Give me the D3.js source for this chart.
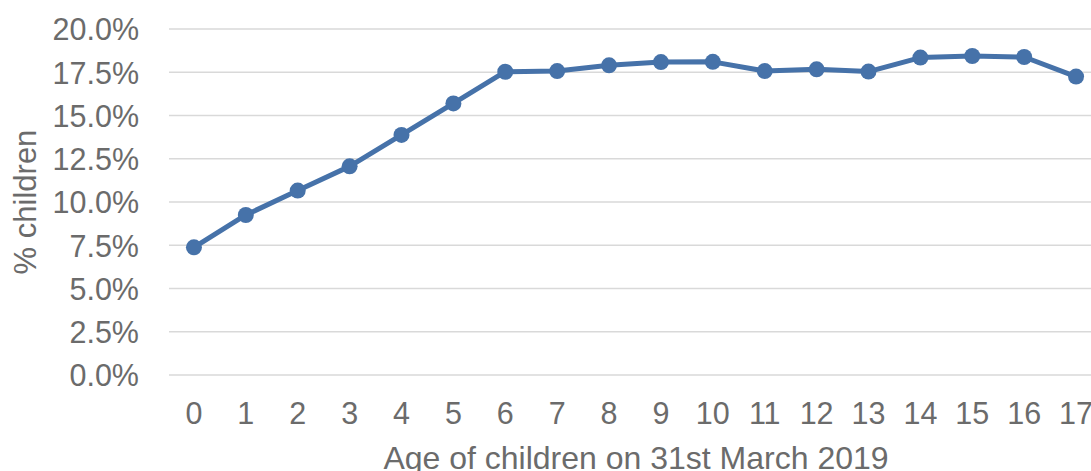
<!DOCTYPE html>
<html>
<head>
<meta charset="utf-8">
<script src="https://cdn.jsdelivr.net/npm/d3@7"></script>
<style>
  html, body { margin: 0; padding: 0; background: #fff; overflow: hidden; }
  svg { display: block; font-family: "Liberation Sans", Arial, sans-serif; }
</style>
</head>
<body>
<svg id="chart" width="1091" height="471"></svg>
<script>
const ages = ["0","1","2","3","4","5","6","7","8","9","10","11","12","13","14","15","16","17"];
const percentChildren = [7.38, 9.25, 10.66, 12.06, 13.88, 15.70, 17.53, 17.57, 17.90, 18.09, 18.10, 17.57, 17.67, 17.54, 18.35, 18.44, 18.38, 17.25];
const yTicks = [0, 2.5, 5, 7.5, 10, 12.5, 15, 17.5, 20];
const xTitle = "Age of children on 31st March 2019";
const yTitle = "% children";

const svg = d3.select("#chart");
const textColor = "#6b6b6b";
const lineColor = "#4672a9";

const x = d3.scaleBand().domain(ages).range([168, 1102]).padding(0);
const y = d3.scaleLinear().domain([0, 20]).range([375, 29]);
const cx = d => x(d) + x.bandwidth() / 2;

// gridlines
svg.append("g")
  .selectAll("line")
  .data(yTicks)
  .join("line")
  .attr("x1", 169).attr("x2", 1091)
  .attr("y1", d => y(d)).attr("y2", d => y(d))
  .attr("stroke", "#d9d9d9").attr("stroke-width", 1.5);

// y axis labels
const yAxis = d3.axisLeft(y).tickValues(yTicks).tickFormat(d => d.toFixed(1) + "%").tickSize(0).tickPadding(0);
const gy = svg.append("g").attr("transform", "translate(139,0)").call(yAxis);
gy.select(".domain").remove();
gy.selectAll("text").attr("fill", textColor).style("font-size", "30.5px")
  .style("font-family", "'Liberation Sans', Arial, sans-serif").attr("dy", "0.36em");

// x axis labels
const xAxis = d3.axisBottom(x).tickSize(0).tickPadding(0);
const gx = svg.append("g").attr("transform", "translate(0,424)").call(xAxis);
gx.select(".domain").remove();
gx.selectAll("text").attr("fill", textColor).style("font-size", "30.5px")
  .style("font-family", "'Liberation Sans', Arial, sans-serif").attr("y", 0).attr("dy", 0);

// line
const line = d3.line().x((d, i) => cx(ages[i])).y(d => y(d));
svg.append("path")
  .datum(percentChildren)
  .attr("d", line)
  .attr("fill", "none")
  .attr("stroke", lineColor)
  .attr("stroke-width", 5)
  .attr("stroke-linejoin", "round");

svg.append("g")
  .selectAll("circle")
  .data(percentChildren)
  .join("circle")
  .attr("cx", (d, i) => cx(ages[i]))
  .attr("cy", d => y(d))
  .attr("r", 8)
  .attr("fill", lineColor);

// titles
svg.append("text")
  .attr("x", 636).attr("y", 469)
  .attr("text-anchor", "middle")
  .attr("fill", textColor)
  .style("font-size", "32px")
  .text(xTitle);

svg.append("text")
  .attr("transform", "translate(36,202) rotate(-90)")
  .attr("text-anchor", "middle")
  .attr("fill", textColor)
  .style("font-size", "31px")
  .text(yTitle);
</script>
</body>
</html>
